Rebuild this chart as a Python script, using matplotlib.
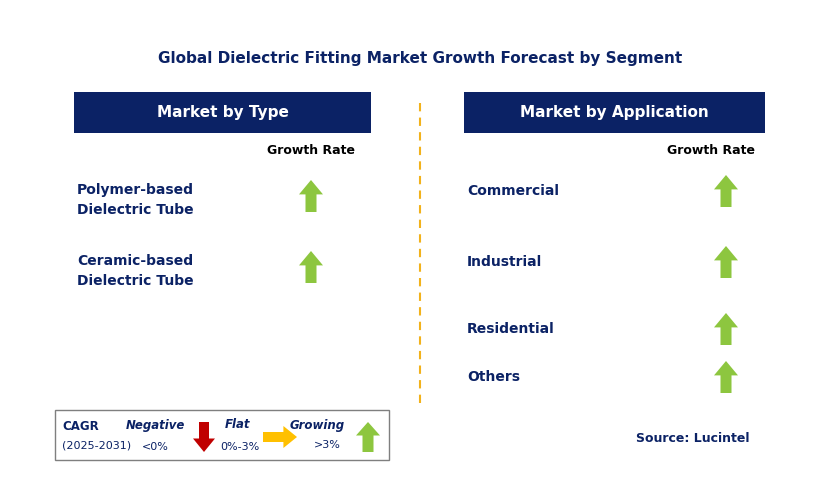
import matplotlib
matplotlib.use("Agg")
import matplotlib.pyplot as plt
from matplotlib.patches import Rectangle, Polygon

title = "Global Dielectric Fitting Market Growth Forecast by Segment"
type_labels = ["Polymer-based\nDielectric Tube", "Ceramic-based\nDielectric Tube"]
type_y = [200, 271]
type_growth = ["Growing", "Growing"]
app_labels = ["Commercial", "Industrial", "Residential", "Others"]
app_y = [191, 262, 329, 377]
app_growth = ["Growing", "Growing", "Growing", "Growing"]

NAVY = "#0B2265"
GREEN = "#8DC63F"
RED = "#C00000"
YELLOW = "#FFC000"

fig = plt.figure(figsize=(8.29, 4.87), dpi=100)
ax = fig.add_axes([0, 0, 1, 1])
ax.set_xlim(0, 829); ax.set_ylim(487, 0); ax.axis("off")

def up_arrow(cx, cy, h=32, w=24, bw=11, color=GREEN):
    top = cy - h/2; bot = cy + h/2; hb = top + h*0.45
    pts = [(cx, top), (cx + w/2, hb), (cx + bw/2, hb), (cx + bw/2, bot),
           (cx - bw/2, bot), (cx - bw/2, hb), (cx - w/2, hb)]
    ax.add_patch(Polygon(pts, closed=True, color=color, lw=0))

def down_arrow(cx, cy, h=32, w=24, bw=11, color=RED):
    top = cy - h/2; bot = cy + h/2; hb = bot - h*0.45
    pts = [(cx, bot), (cx + w/2, hb), (cx + bw/2, hb), (cx + bw/2, top),
           (cx - bw/2, top), (cx - bw/2, hb), (cx - w/2, hb)]
    ax.add_patch(Polygon(pts, closed=True, color=color, lw=0))

def right_arrow(cx, cy, w=34, h=22, bh=10, color=YELLOW):
    l = cx - w/2; r = cx + w/2; hb = r - w*0.4
    pts = [(r, cy), (hb, cy - h/2), (hb, cy - bh/2), (l, cy - bh/2),
           (l, cy + bh/2), (hb, cy + bh/2), (hb, cy + h/2)]
    ax.add_patch(Polygon(pts, closed=True, color=color, lw=0))

ax.text(420, 58, title, ha="center", va="center", fontsize=11, fontweight="bold", color=NAVY)

for x0, x1, lab in [(74, 371, "Market by Type"), (464, 765, "Market by Application")]:
    ax.add_patch(Rectangle((x0, 92), x1 - x0, 41, color=NAVY, lw=0))
    ax.text((x0 + x1)/2, 112.5, lab, ha="center", va="center", fontsize=11, fontweight="bold", color="white")

ax.plot([420, 420], [103, 405], ls=(0, (4, 3)), color="#F2B21B", lw=1.5)

ax.text(311, 151, "Growth Rate", ha="center", va="center", fontsize=9, fontweight="bold", color="black")
ax.text(711, 151, "Growth Rate", ha="center", va="center", fontsize=9, fontweight="bold", color="black")

for lab, y, g in zip(type_labels, type_y, type_growth):
    ax.text(77, y, lab, ha="left", va="center", fontsize=10, fontweight="bold", color=NAVY, linespacing=1.5)
    up_arrow(311, y - 4)
for lab, y, g in zip(app_labels, app_y, app_growth):
    ax.text(467, y, lab, ha="left", va="center", fontsize=10, fontweight="bold", color=NAVY)
    up_arrow(726, y)

# legend box
ax.add_patch(Rectangle((55, 410), 334, 50, fill=False, ec="#7F7F7F", lw=1))
ax.text(62, 427, "CAGR", fontsize=8.5, fontweight="bold", color=NAVY, va="center")
ax.text(62, 446, "(2025-2031)", fontsize=8, color=NAVY, va="center")
ax.text(155, 425, "Negative", fontsize=8.5, fontweight="bold", style="italic", color=NAVY, ha="center", va="center")
ax.text(155, 447, "<0%", fontsize=8, color=NAVY, ha="center", va="center")
down_arrow(204, 437, h=30, w=22, bw=10)
ax.text(238, 425, "Flat", fontsize=8.5, fontweight="bold", style="italic", color=NAVY, ha="center", va="center")
ax.text(240, 447, "0%-3%", fontsize=8, color=NAVY, ha="center", va="center")
right_arrow(280, 437)
ax.text(317, 425, "Growing", fontsize=8.5, fontweight="bold", style="italic", color=NAVY, ha="center", va="center")
ax.text(327, 445, ">3%", fontsize=8, color=NAVY, ha="center", va="center")
up_arrow(368, 437, h=30, w=24, bw=11)

ax.text(750, 438, "Source: Lucintel", ha="right", va="center", fontsize=9, fontweight="bold", color=NAVY)

fig.savefig("out.png", dpi=100)
